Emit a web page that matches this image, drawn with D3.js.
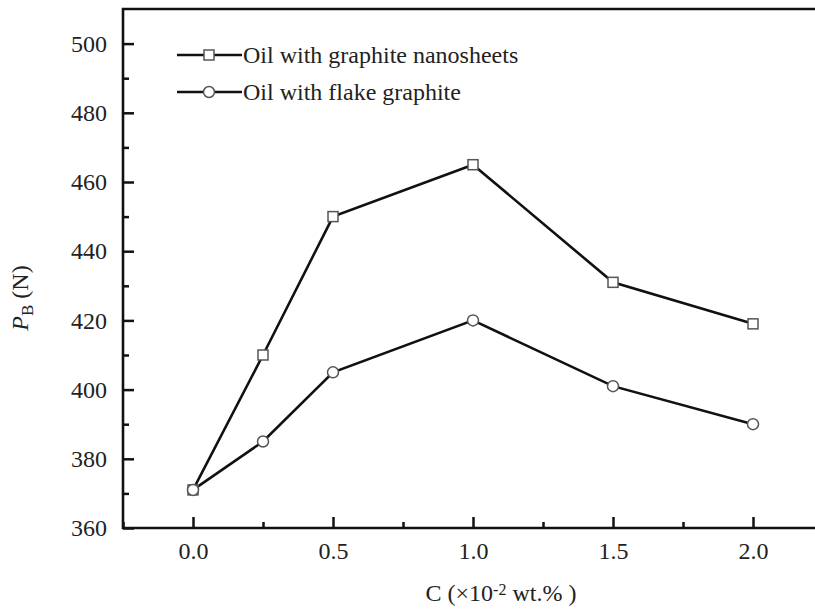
<!DOCTYPE html>
<html>
<head>
<meta charset="utf-8">
<script src="https://cdn.jsdelivr.net/npm/d3@7"></script>
<style>
  body { margin: 0; background: #fff; }
  svg { display: block; }
  text { font-family: "Liberation Serif", "Times New Roman", serif; fill: #222; }
</style>
</head>
<body>
<svg id="chart" width="815" height="611"></svg>
<script>
// data
var concentrations = [0.0, 0.25, 0.5, 1.0, 1.5, 2.0];
var nanosheets = [371, 410, 450, 465, 431, 419];
var flake = [371, 385, 405, 420, 401, 390];
var seriesNames = ["Oil with graphite nanosheets", "Oil with flake graphite"];
var xTicks = [0.0, 0.5, 1.0, 1.5, 2.0];
var xMinor = [-0.25, 0.25, 0.75, 1.25, 1.75, 2.25];
var yTicks = [360, 380, 400, 420, 440, 460, 480, 500];
var yMinor = [370, 390, 410, 430, 450, 470, 490];

var W = 815, H = 611;
var plotLeft = 123, plotTop = 9, plotBottom = 528;

var svg = d3.select('#chart');

var x = d3.scaleLinear().domain([-0.25, 2.25]).range([plotLeft, plotLeft + 700]);
var y = d3.scaleLinear().domain([360, 510]).range([plotBottom, plotTop]);

// axes, ticks inward
svg.append('g')
  .attr('transform', 'translate(0,' + plotBottom + ')')
  .call(d3.axisBottom(x).tickValues(xTicks).tickSize(-11).tickPadding(14)
    .tickFormat(d3.format('.1f')));
svg.append('g')
  .attr('transform', 'translate(0,' + plotBottom + ')')
  .call(d3.axisBottom(x).tickValues(xMinor).tickSize(-6).tickFormat(''));

svg.append('g')
  .attr('transform', 'translate(' + plotLeft + ',0)')
  .call(d3.axisLeft(y).tickValues(yTicks).tickSize(-11).tickPadding(16));
svg.append('g')
  .attr('transform', 'translate(' + plotLeft + ',0)')
  .call(d3.axisLeft(y).tickValues(yMinor).tickSize(-6).tickFormat(''));

svg.selectAll('.domain').remove();
svg.selectAll('.tick line').attr('stroke', '#111').attr('stroke-width', 2.5);
svg.selectAll('.tick text').style('font-size', '24px').attr('fill', '#222');

// frame (right side is cut off in the original)
svg.append('path')
  .attr('d', 'M' + W + ',' + plotTop + 'H' + plotLeft + 'V' + plotBottom + 'H' + W)
  .attr('fill', 'none')
  .attr('stroke', '#111')
  .attr('stroke-width', 2.6);

// lines
var line = d3.line()
  .x(function (d) { return x(d[0]); })
  .y(function (d) { return y(d[1]); });

var series = [nanosheets, flake].map(function (vals) {
  return vals.map(function (v, i) { return [concentrations[i], v]; });
});

series.forEach(function (pts) {
  svg.append('path')
    .datum(pts)
    .attr('d', line)
    .attr('fill', 'none')
    .attr('stroke', '#111')
    .attr('stroke-width', 2.6);
});

function drawMarker(g, k, cx, cy) {
  if (k === 0) {
    g.append('rect')
      .attr('x', cx - 5).attr('y', cy - 5)
      .attr('width', 10).attr('height', 10)
      .attr('fill', '#fff').attr('stroke', '#555').attr('stroke-width', 1.5);
  } else {
    g.append('circle')
      .attr('cx', cx).attr('cy', cy).attr('r', 5.5)
      .attr('fill', '#fff').attr('stroke', '#555').attr('stroke-width', 1.5);
  }
}

series.forEach(function (pts, k) {
  var g = svg.append('g');
  pts.forEach(function (d) {
    drawMarker(g, k, x(d[0]), y(d[1]));
  });
});

// legend
var legendY = [55, 92];
seriesNames.forEach(function (name, k) {
  var g = svg.append('g');
  g.append('line')
    .attr('x1', 177).attr('x2', 242)
    .attr('y1', legendY[k]).attr('y2', legendY[k])
    .attr('stroke', '#111').attr('stroke-width', 2.6);
  drawMarker(g, k, 209, legendY[k]);
  g.append('text')
    .attr('x', 243).attr('y', legendY[k])
    .attr('dy', '0.35em')
    .style('font-size', '24px')
    .text(name);
});

// axis titles
var yt = svg.append('text')
  .attr('transform', 'translate(28,298) rotate(-90)')
  .attr('text-anchor', 'middle')
  .style('font-size', '24px');
yt.append('tspan').style('font-style', 'italic').text('P');
yt.append('tspan').attr('baseline-shift', '-30%').style('font-size', '17px').text('B');
yt.append('tspan').text(' (N)');

var xt = svg.append('text')
  .attr('x', 501).attr('y', 601)
  .attr('text-anchor', 'middle')
  .style('font-size', '24px');
xt.append('tspan').text('C (\u00d710');
xt.append('tspan').attr('baseline-shift', '40%').style('font-size', '16px').text('-2');
xt.append('tspan').text(' wt.% )');
</script>
</body>
</html>
